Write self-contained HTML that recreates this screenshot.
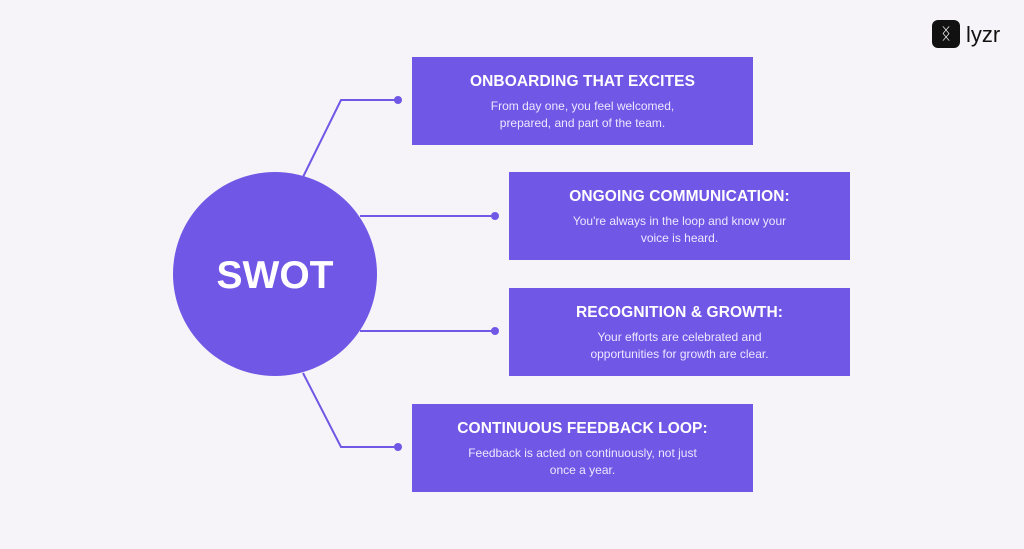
<!DOCTYPE html>
<html><head><meta charset="utf-8"><style>
body{margin:0;width:1024px;height:549px;background:#f6f4f8;font-family:"Liberation Sans",sans-serif;position:relative;overflow:hidden}
.b{position:absolute;background:#7157e6;color:#fff;text-align:center;width:341px;height:88px;box-sizing:border-box}
.b h{display:block;font-weight:bold;font-size:15.5px;margin-top:16px;letter-spacing:0.1px}
.b p{margin:7px 0 0;font-size:12px;line-height:17px;color:#ece8ff}
</style></head><body>
<svg width="1024" height="549" style="position:absolute;left:0;top:0">
<g stroke="#7157e6" stroke-width="2" fill="none">
<polyline points="303,177 341,100 398,100"/>
<line x1="360" y1="216" x2="495" y2="216"/>
<line x1="360" y1="331" x2="495" y2="331"/>
<polyline points="303,373 341,447 398,447"/>
</g>
<g fill="#7157e6"><circle cx="398" cy="100" r="4"/><circle cx="495" cy="216" r="4"/><circle cx="495" cy="331" r="4"/><circle cx="398" cy="447" r="4"/>
<circle cx="275" cy="274" r="102"/></g>
<text x="275" y="288" text-anchor="middle" fill="#fff" font-family="Liberation Sans" font-weight="bold" font-size="39">SWOT</text>
<rect x="932" y="20" width="28" height="28" rx="6" fill="#111"/>
<text x="946" y="39" text-anchor="middle" fill="#fff" font-size="16" font-family="DejaVu Sans">ᛝ</text>
<text x="966" y="42" fill="#111" font-size="22" font-family="Liberation Sans">lyzr</text>
</svg>
<div class="b" style="left:412px;top:57px"><h>ONBOARDING THAT EXCITES</h><p>From day one, you feel welcomed,<br>prepared, and part of the team.</p></div>
<div class="b" style="left:509px;top:172px"><h>ONGOING COMMUNICATION:</h><p>You're always in the loop and know your<br>voice is heard.</p></div>
<div class="b" style="left:509px;top:288px"><h>RECOGNITION &amp; GROWTH:</h><p>Your efforts are celebrated and<br>opportunities for growth are clear.</p></div>
<div class="b" style="left:412px;top:404px"><h>CONTINUOUS FEEDBACK LOOP:</h><p>Feedback is acted on continuously, not just<br>once a year.</p></div>
</body></html>
